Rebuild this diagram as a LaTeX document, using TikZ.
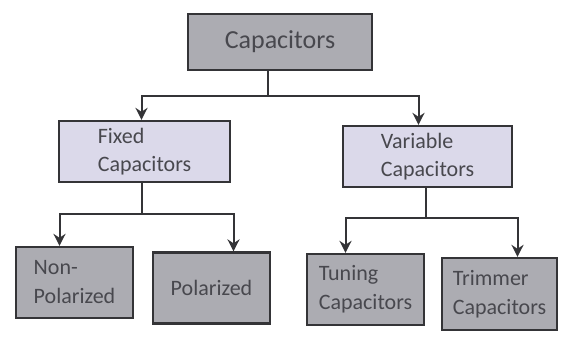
\documentclass[tikz,border=0pt]{standalone}
\usepackage{fontspec}
\setmainfont{Carlito}
\usepackage{xcolor}
\usetikzlibrary{arrows.meta}

\definecolor{boxgray}{RGB}{172,172,178}
\definecolor{boxlav}{RGB}{219,217,234}
\definecolor{edgegray}{RGB}{52,52,55}
\definecolor{textgray}{RGB}{72,72,78}

\begin{document}
\begin{tikzpicture}[x=1pt,y=-1pt,
  rootbox/.style={draw=edgegray, fill=boxgray, rectangle, line width=2.2pt,
                  minimum width=184pt, minimum height=56pt,
                  text=textgray, font=\fontsize{26}{30}\selectfont},
  midbox/.style ={draw=edgegray, fill=boxlav, rectangle, line width=2.2pt,
                  minimum height=61pt, align=left,
                  text=textgray, font=\fontsize{22}{28}\selectfont},
  leafbox/.style={draw=edgegray, fill=boxgray, rectangle, line width=2.2pt,
                  minimum height=71pt, align=left,
                  text=textgray, font=\fontsize{22}{29}\selectfont},
  arr/.style    ={-{Stealth[length=12pt,width=12pt]}, line width=2pt, draw=edgegray}
]
\useasboundingbox[fill=white] (0,0) rectangle (565,338);

%% -- root ------------------------------------------------------------
\node[rootbox] (cap) at (280,42) {Capacitors};

%% -- second row ------------------------------------------------------
\node[midbox, minimum width=171pt] (fixed) at (144.5,151.5) {Fixed\\Capacitors};
\node[midbox, minimum width=169pt] (var)   at (427.5,156.5) {Variable\\Capacitors};

%% -- leaves ----------------------------------------------------------
\node[leafbox, minimum width=117pt] (nonpol) at (74.5,282.5) {Non-\\Polarized};
\node[leafbox, minimum width=117pt] (pol)    at (211.5,288)  {Polarized};
\node[leafbox, minimum width=117pt] (tun)    at (365.5,289.5) {Tuning\\Capacitors};
\node[leafbox, minimum width=115pt, minimum height=72pt] (trim) at (499.5,294) {Trimmer\\Capacitors};

%% -- connectors ------------------------------------------------------
\draw[arr] ([xshift=-12pt]cap.south) -- ++(0,25) -| ([xshift=-3pt]fixed.north);
\draw[arr] ([xshift=-12pt]cap.south) -- ++(0,25) -| ([xshift=-9pt]var.north);

\draw[arr] ([xshift=-3pt]fixed.south) -- ++(0,31) -| ([xshift=-15pt]nonpol.north);
\draw[arr] ([xshift=-3pt]fixed.south) -- ++(0,31) -| ([xshift=22pt]pol.north);

\draw[arr] ([xshift=-2pt]var.south) -- ++(0,30) -| ([xshift=-20pt]tun.north);
\draw[arr] ([xshift=-2pt]var.south) -- ++(0,30) -| ([xshift=18pt]trim.north);

\end{tikzpicture}
\end{document}
